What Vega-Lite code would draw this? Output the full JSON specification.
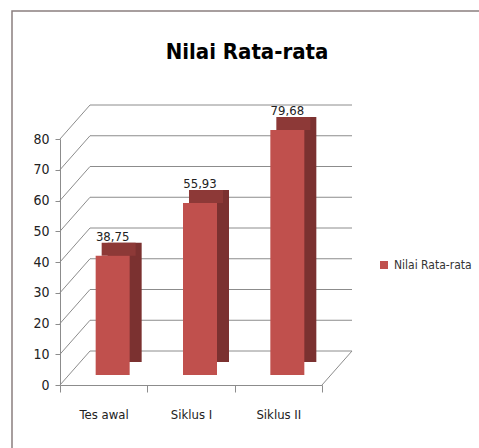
{
  "$schema": "https://vega.github.io/schema/vega-lite/v6.json",
  "autosize": "none",
  "width": 470,
  "height": 440,
  "padding": {"left": 12, "top": 11, "right": 0, "bottom": 0},
  "background": "white",
  "config": {
    "view": {"stroke": "#8a7f7f", "strokeWidth": 1.5},
    "locale": {"number": {"decimal": ",", "thousands": ".", "grouping": [3], "currency": ["", ""]}},
    "font": "DejaVu Sans Condensed, Liberation Sans, sans-serif"
  },
  "title": {
    "text": "Nilai Rata-rata",
    "font": "DejaVu Sans Condensed, Liberation Sans, sans-serif",
    "fontSize": 22,
    "fontWeight": "bold",
    "color": "#000000",
    "anchor": "middle",
    "frame": "group",
    "offset": -53
  },
  "datasets": {
    "nilai": [
      {"tahap": "Tes awal", "nilai": 38.75},
      {"tahap": "Siklus I", "nilai": 55.93},
      {"tahap": "Siklus II", "nilai": 79.68}
    ],
    "grid": [
      {"g": 0}, {"g": 10}, {"g": 20}, {"g": 30}, {"g": 40},
      {"g": 50}, {"g": 60}, {"g": 70}, {"g": 80}
    ]
  },
  "layer": [
    {
      "data": {"name": "grid"},
      "mark": {"type": "rule", "color": "#8c8c8c", "strokeWidth": 1, "xOffset": 30, "x2Offset": 30, "yOffset": -34},
      "encoding": {
        "x": {"datum": "Tes awal", "type": "nominal", "bandPosition": 0,
              "scale": {"type": "band", "domain": ["Tes awal", "Siklus I", "Siklus II"], "range": [48, 310], "paddingInner": 0, "paddingOuter": 0},
              "axis": {"orient": "bottom", "offset": -66, "title": null, "labelAngle": 0, "tickBand": "extent", "tickSize": 7, "tickColor": "#8c8c8c", "domainColor": "#8c8c8c", "labelPadding": 16, "labelFont": "DejaVu Sans Condensed, Liberation Sans, sans-serif", "labelFontSize": 13, "labelColor": "#222222"}},
        "x2": {"datum": "Siklus II", "bandPosition": 1},
        "y": {"field": "g", "type": "quantitative",
              "scale": {"domain": [0, 80], "range": [374, 128], "nice": false, "zero": true},
              "axis": {"offset": -48, "title": null, "values": [0, 10, 20, 30, 40, 50, 60, 70, 80], "grid": false, "tickSize": 5, "tickColor": "#8c8c8c", "domainColor": "#8c8c8c", "labelPadding": 6, "labelFont": "DejaVu Sans Condensed, Liberation Sans, sans-serif", "labelFontSize": 14, "labelColor": "#222222"}}
      }
    },
    {
      "data": {"name": "grid"},
      "mark": {"type": "rule", "color": "#8c8c8c", "strokeWidth": 1, "x2Offset": 30, "y2Offset": -34},
      "encoding": {
        "x": {"datum": "Tes awal", "type": "nominal", "bandPosition": 0},
        "x2": {"datum": "Tes awal", "bandPosition": 0},
        "y": {"field": "g", "type": "quantitative"},
        "y2": {"field": "g"}
      }
    },
    {
      "data": {"values": [{"g": 0}]},
      "mark": {"type": "rule", "color": "#8c8c8c", "strokeWidth": 1, "x2Offset": 30, "y2Offset": -34},
      "encoding": {
        "x": {"datum": "Siklus II", "type": "nominal", "bandPosition": 1},
        "x2": {"datum": "Siklus II", "bandPosition": 1},
        "y": {"field": "g", "type": "quantitative"},
        "y2": {"field": "g"}
      }
    },
    {
      "data": {"name": "nilai"},
      "mark": {"type": "bar", "width": 34, "color": "#7b3130", "xOffset": 21, "yOffset": -23, "y2Offset": -23},
      "encoding": {
        "x": {"field": "tahap", "type": "nominal", "sort": null},
        "y": {"field": "nilai", "type": "quantitative"},
        "y2": {"datum": 0}
      }
    },
    {
      "data": {"name": "nilai"},
      "mark": {"type": "bar", "width": 34, "color": "#8d3937", "xOffset": 15, "yOffset": -23, "y2Offset": -10},
      "encoding": {
        "x": {"field": "tahap", "type": "nominal", "sort": null},
        "y": {"field": "nilai", "type": "quantitative"},
        "y2": {"field": "nilai"}
      }
    },
    {
      "data": {"name": "nilai"},
      "mark": {"type": "bar", "width": 34, "xOffset": 9, "yOffset": -10, "y2Offset": -10},
      "encoding": {
        "x": {"field": "tahap", "type": "nominal", "sort": null},
        "y": {"field": "nilai", "type": "quantitative"},
        "y2": {"datum": 0},
        "color": {"datum": "Nilai Rata-rata", "type": "nominal",
                  "scale": {"range": ["#c0504d"]},
                  "legend": {"title": null, "orient": "none", "legendX": 366, "legendY": 248, "symbolType": "square", "symbolSize": 64, "symbolStrokeWidth": 0, "labelFont": "DejaVu Sans Condensed, Liberation Sans, sans-serif", "labelFontSize": 12, "labelColor": "#333333", "labelOffset": 4, "labelLimit": 200}}
      }
    },
    {
      "data": {"name": "nilai"},
      "mark": {"type": "text", "dx": 9, "dy": -25, "baseline": "alphabetic", "align": "center", "font": "DejaVu Sans Condensed, Liberation Sans, sans-serif", "fontSize": 13, "color": "#222222"},
      "encoding": {
        "x": {"field": "tahap", "type": "nominal", "sort": null},
        "y": {"field": "nilai", "type": "quantitative"},
        "text": {"field": "nilai", "type": "quantitative", "format": ".2f"}
      }
    }
  ]
}
